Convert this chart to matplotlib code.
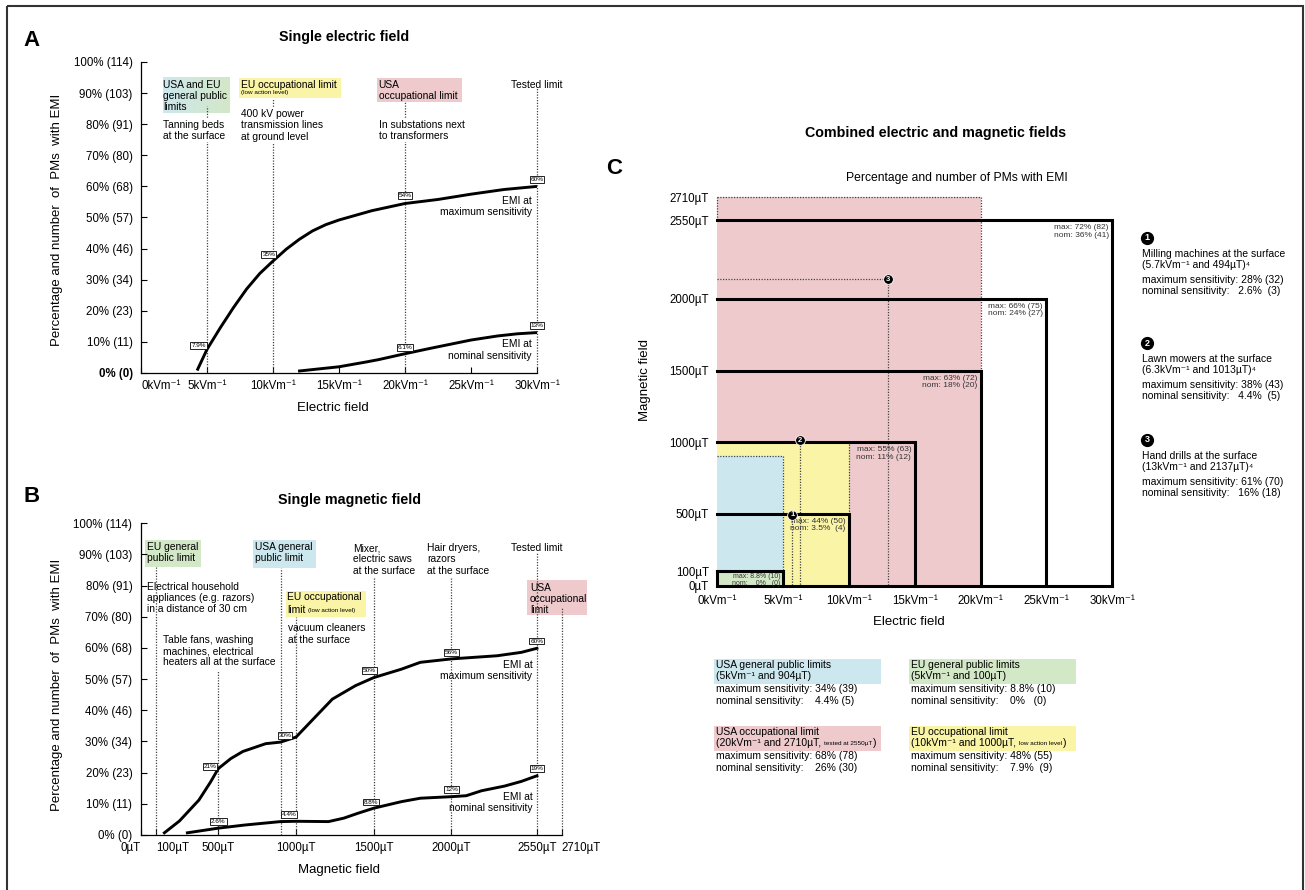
import matplotlib
matplotlib.use('Agg')
import numpy as np
import matplotlib.pyplot as plt
from matplotlib.patches import Rectangle
from matplotlib.colors import LinearSegmentedColormap

plt.rcParams['font.family'] = ['Liberation Sans', 'DejaVu Sans']

# ---------------- values ----------------
pct_ticks = [0, 10, 20, 30, 40, 50, 60, 70, 80, 90, 100]
pm_counts = [0, 11, 23, 34, 46, 57, 68, 80, 91, 103, 114]
kv_ticks = [0, 5, 10, 15, 20, 25, 30]
ut_ticks = [0, 100, 500, 1000, 1500, 2000, 2550, 2710]

# A: single electric field (kV/m -> % of PMs with EMI)
e_max_kv = [4.25, 5, 6, 7, 8, 9, 10, 11, 12, 13, 14, 15, 17.5, 20, 22.5, 25, 27.5, 30]
e_max_pct = [0.8, 7.6, 14.5, 21, 27, 32, 36, 39.8, 43, 45.7, 47.7, 49.2, 52.2, 54.5, 55.8, 57.5, 59, 60]
e_nom_kv = [11.9, 13, 15, 17, 18, 20, 22, 23.5, 25, 27, 28.5, 30]
e_nom_pct = [0.6, 1.1, 2, 3.5, 4.3, 6.2, 8, 9.3, 10.6, 11.9, 12.6, 13]
e_mark_kv = [5, 10, 20, 30]
e_mark_max = [7.9, 35, 54, 60]
e_mark_nom_kv = [20, 30]
e_mark_nom = [6.1, 13]

# B: single magnetic field (uT -> % of PMs with EMI)
b_max_ut = [153, 250, 375, 450, 500, 580, 658, 805, 900, 1000, 1111, 1234, 1382, 1500,
            1678, 1800, 2000, 2293, 2450, 2550]
b_max_pct = [0.7, 4.5, 11.2, 17, 21.3, 24.5, 26.8, 29.3, 29.8, 31.4, 37.2, 43.6, 47.9, 50.5,
             53.2, 55.4, 56.5, 57.5, 58.6, 59.9]
b_nom_ut = [301, 500, 670, 900, 1000, 1209, 1307, 1400, 1500, 1678, 1800, 2000, 2095, 2194,
            2342, 2450, 2550]
b_nom_pct = [0.7, 2.2, 3.2, 4.3, 4.4, 4.3, 5.4, 7, 8.6, 10.7, 11.8, 12.3, 12.6, 14.2,
             15.7, 17.2, 19]
b_mark_ut = [500, 1000, 1500, 2000, 2550]
b_mark_max = [21, 30, 50, 56, 60]
b_mark_nom = [2.6, 4.4, 8.8, 12, 19]

# C: combined fields, tested boxes (kV/m, uT)
c_box_kv = [5, 10, 15, 20, 25, 30]
c_box_ut = [100, 500, 1000, 1500, 2000, 2550]
c_box_max = ['8.8% (10)', '44% (50)', '55% (63)', '63% (72)', '66% (75)', '72% (82)']
c_box_nom = ['   0%   (0)', '3.5%  (4)', '11% (12)', '18% (20)', '24% (27)', '36% (41)']

limit_kv = [20, 10, 5, 5]            # USA occ, EU occ, USA public, EU public
limit_ut = [2710, 1000, 904, 100]
limit_max = ['68% (78)', '48% (55)', '34% (39)', '8.8% (10)']
limit_nom = ['26% (30)', '7.9%  (9)', '4.4% (5)', '0%   (0)']

device_names = ['Milling machines at the surface', 'Lawn mowers at the surface',
                'Hand drills at the surface']
device_kv = [5.7, 6.3, 13]
device_ut = [494, 1013, 2137]
device_max = ['28% (32)', '38% (43)', '61% (70)']
device_nom = ['2.6%  (3)', '4.4%  (5)', '16% (18)']

BLUE = '#cde7ee'
GREEN = '#d3e8c7'
YELLOW = '#faf4a6'
PINK = '#eecacd'
DOT = dict(color='#444444', lw=0.9, ls=(0, (1, 1.2)))

W, H = 1305, 890
fig = plt.figure(figsize=(W / 100, H / 100), dpi=100)


def axes_px(left, top, right, bottom):
    return fig.add_axes([left / W, 1 - bottom / H, (right - left) / W, (bottom - top) / H])


def style_pct_axis(ax):
    for s in ['top', 'right']:
        ax.spines[s].set_visible(False)
    for s in ['left', 'bottom']:
        ax.spines[s].set_linewidth(0.9)
    ax.set_ylim(0, 100)
    ax.set_yticks(pct_ticks)
    ax.set_yticklabels([f'{p}% ({n})' for p, n in zip(pct_ticks, pm_counts)], fontsize=8.3)
    ax.tick_params(axis='y', direction='in', length=4, width=0.8, pad=6)
    ax.tick_params(axis='x', direction='in', length=4, width=0.8, pad=5, labelsize=8.3)
    ax.patch.set_alpha(0)


def mark(ax, x, v, dx, dy):
    ax.annotate(f'{v:g}%', xy=(x, v), xytext=(dx, dy), textcoords='offset points',
                ha='center', va='center', fontsize=4.6, zorder=5,
                bbox=dict(boxstyle='square,pad=0.15', fc='white', ec='black', lw=0.6))


txt = dict(fontsize=7.4, linespacing=1.15, va='top')
white = dict(boxstyle='square,pad=0.1', fc='white', ec='none')

# ---------------- A ----------------
axA = axes_px(141, 62, 537, 373)
style_pct_axis(axA)
axA.get_yticklabels()[0].set_fontweight('bold')
axA.set_xlim(0, 30)
axA.set_xticks(kv_ticks)
axA.set_xticklabels([f'{k}kVm⁻¹' for k in kv_ticks])
axA.get_xticklabels()[0].set_ha('left')

grad = LinearSegmentedColormap.from_list('bg', [BLUE, GREEN])
axA.imshow(np.linspace(0, 1, 64)[None, :], extent=[1.64, 6.7, 83.6, 94.9], cmap=grad,
           aspect='auto', interpolation='bilinear', zorder=1)
axA.add_patch(Rectangle((7.45, 88.5), 7.7, 6.4, fc=YELLOW, ec='none', zorder=1))
axA.add_patch(Rectangle((17.9, 87.2), 6.4, 7.7, fc=PINK, ec='none', zorder=1))
axA.set_xlim(0, 30)
axA.set_ylim(0, 100)

for x, top in zip([5, 10, 20, 30], [86, 88.5, 87.2, 91.5]):
    axA.plot([x, x], [0, top], **DOT, zorder=2, clip_on=False)

axA.text(1.7, 94.3, 'USA and EU\ngeneral public\nlimits', zorder=3, **txt)
axA.text(7.6, 94.3, 'EU occupational limit', zorder=3, **txt)
axA.text(7.6, 91.0, '(low action level)', fontsize=4.6, va='top', zorder=3)
axA.text(18.0, 94.3, 'USA\noccupational limit', zorder=3, **txt)
axA.text(30, 94.3, 'Tested limit', ha='center', zorder=3, **txt)
axA.text(1.7, 81.3, 'Tanning beds\nat the surface', bbox=white, zorder=3, **txt)
axA.text(7.6, 84.8, '400 kV power\ntransmission lines\nat ground level', bbox=white, zorder=3, **txt)
axA.text(18.0, 81.3, 'In substations next\nto transformers', bbox=white, zorder=3, **txt)
axA.text(29.6, 57.0, 'EMI at\nmaximum sensitivity', ha='right', bbox=white, zorder=3, **txt)
axA.text(29.6, 10.8, 'EMI at\nnominal sensitivity', ha='right', bbox=white, zorder=3, **txt)

axA.plot(e_max_kv, e_max_pct, color='black', lw=2.1, solid_capstyle='butt', zorder=4)
axA.plot(e_nom_kv, e_nom_pct, color='black', lw=2.1, solid_capstyle='butt', zorder=4)
for x, v, off in zip(e_mark_kv, e_mark_max, [(-6, 2), (-3, 7), (0, 7), (0, 5)]):
    mark(axA, x, v, *off)
for x, v in zip(e_mark_nom_kv, e_mark_nom):
    mark(axA, x, v, 0, 5)

# ---------------- B ----------------
axB = axes_px(140.6, 523.3, 561.8, 835)
style_pct_axis(axB)
axB.set_xlim(0, 2710)
axB.set_xticks(ut_ticks)
axB.set_xticklabels([f'{u}µT' for u in ut_ticks])
blabels = axB.get_xticklabels()
blabels[0].set_ha('right')
blabels[1].set_ha('left')
blabels[-1].set_ha('left')

axB.add_patch(Rectangle((31, 85.9), 356, 8.7, fc=GREEN, ec='none', zorder=1))
axB.add_patch(Rectangle((724, 85.6), 402, 9.0, fc=BLUE, ec='none', zorder=1))
axB.add_patch(Rectangle((935, 70.0), 514, 8.3, fc=YELLOW, ec='none', zorder=1))
axB.add_patch(Rectangle((2489, 70.6), 380, 11.2, fc=PINK, ec='none', zorder=1, clip_on=False))

for x, top in zip([100, 500, 904, 1000, 1500, 2000, 2550, 2710],
                  [85.9, 52.9, 85.6, 70.0, 82.9, 82.9, 90.5, 73.2]):
    axB.plot([x, x], [0, top], **DOT, zorder=2, clip_on=False)

axB.text(39, 94.0, 'EU general\npublic limit', zorder=3, **txt)
axB.text(736, 94.0, 'USA general\npublic limit', zorder=3, **txt)
axB.text(944, 77.8, 'EU occupational', zorder=3, **txt)
lim = axB.text(944, 73.9, 'limit', zorder=3, **txt)
axB.annotate('(low action level)', xy=(1, 0), xycoords=lim, xytext=(1.5, 1.2),
             textcoords='offset points', fontsize=4.6, va='bottom', zorder=3)
axB.text(2506, 81.0, 'USA\noccupational\nlimit', zorder=3, clip_on=False, **txt)
axB.text(43, 81.2, 'Electrical household\nappliances (e.g. razors)\nin a distance of 30 cm',
         zorder=1, **txt)
axB.text(146, 64.2, 'Table fans, washing\nmachines, electrical\nheaters all at the surface',
         zorder=1, **txt)
axB.text(947, 67.9, 'vacuum cleaners\nat the surface', zorder=1, **txt)
axB.text(1365, 93.6, 'Mixer,\nelectric saws\nat the surface', zorder=1, **txt)
axB.text(1845, 93.6, 'Hair dryers,\nrazors\nat the surface', zorder=1, **txt)
axB.text(2550, 93.6, 'Tested limit', ha='center', zorder=3, **txt)
axB.text(2521, 56.1, 'EMI at\nmaximum sensitivity', ha='right', zorder=1, **txt)
axB.text(2521, 13.9, 'EMI at\nnominal sensitivity', ha='right', zorder=1, **txt)

axB.plot(b_max_ut, b_max_pct, color='black', lw=2.1, zorder=4)
axB.plot(b_nom_ut, b_nom_pct, color='black', lw=2.1, zorder=4)
for x, v, off in zip(b_mark_ut, b_mark_max, [(-6, 2), (-8, 4), (-3, 6), (0, 6), (0, 5)]):
    mark(axB, x, v, *off)
for x, v, off in zip(b_mark_ut, b_mark_nom, [(0, 4), (-5, 5), (-2, 4), (0, 6), (0, 5)]):
    mark(axB, x, v, *off)

# ---------------- C ----------------
axC = axes_px(717.1, 197.2, 1112.3, 585.6)
axC.set_xlim(0, 30)
axC.set_ylim(0, 2710)
for s in axC.spines.values():
    s.set_visible(False)
axC.patch.set_alpha(0)
axC.set_xticks(kv_ticks)
axC.set_xticklabels([f'{k}kVm⁻¹' for k in kv_ticks])
axC.set_yticks(ut_ticks)
axC.set_yticklabels([f'{u}µT' for u in ut_ticks])
axC.tick_params(axis='both', length=0, labelsize=8.3)
axC.tick_params(axis='y', pad=6)
axC.tick_params(axis='x', pad=7)

for kv, ut, col in zip(limit_kv, limit_ut, [PINK, YELLOW, BLUE, GREEN]):
    axC.add_patch(Rectangle((0, 0), kv, ut, fc=col, ec='none', zorder=1))

# dotted borders of the limit areas
axC.plot([0, limit_kv[0], limit_kv[0]], [limit_ut[0], limit_ut[0], 1500], **DOT, zorder=2, clip_on=False)
axC.plot([0, 0], [2550, limit_ut[0]], **DOT, zorder=2, clip_on=False)
axC.plot([limit_kv[1], limit_kv[1]], [500, limit_ut[1]], **DOT, zorder=2)
axC.plot([0, limit_kv[2], limit_kv[2]], [limit_ut[2], limit_ut[2], 100], **DOT, zorder=2)

# device guides
axC.plot([0, device_kv[2], device_kv[2]], [device_ut[2], device_ut[2], 0], **DOT, zorder=2)
axC.plot([device_kv[1], device_kv[1]], [device_ut[1], 0], **DOT, zorder=2)
axC.plot([device_kv[0], device_kv[0]], [device_ut[0], 0], **DOT, zorder=2)

# tested boxes
for i, (kv, ut, mx, nm) in enumerate(zip(c_box_kv, c_box_ut, c_box_max, c_box_nom)):
    axC.plot([0, kv, kv], [ut, ut, 0], color='black', lw=2.2, zorder=3,
             solid_joinstyle='miter', clip_on=False)
    if i == 0:
        axC.annotate(f'max: {mx}\nnom: {nm}', xy=(kv, ut), xytext=(-2, -1.5),
                     textcoords='offset points', ha='right', va='top', fontsize=5,
                     linespacing=0.85, color='#333333', zorder=4)
    else:
        axC.annotate(f'max: {mx}\nnom: {nm}', xy=(kv, ut), xytext=(-2.5, -3),
                     textcoords='offset points', ha='right', va='top', fontsize=6,
                     linespacing=1.05, color='#333333', zorder=4)
axC.plot([0, c_box_kv[-1]], [0, 0], color='black', lw=2.2, zorder=3, clip_on=False)
axC.plot([0, 0], [0, c_box_ut[0]], color='black', lw=2.2, zorder=3, clip_on=False)

for i, (kv, ut) in enumerate(zip(device_kv, device_ut)):
    axC.plot(kv, ut, 'o', ms=7, color='black', mec='white', mew=0.6, zorder=6)
    axC.text(kv, ut, str(i + 1), color='white', fontsize=5.5, fontweight='bold',
             ha='center', va='center', zorder=7)

# ---------------- overlay in pixel coordinates ----------------
ov = fig.add_axes([0, 0, 1, 1])
ov.set_xlim(0, W)
ov.set_ylim(H, 0)
ov.axis('off')
ov.patch.set_alpha(0)

ov.add_patch(Rectangle((7, 6), 1296, 900, fill=False, ec='#333333', lw=1.5))

ov.text(32, 40, 'A', fontsize=16, fontweight='bold', ha='center', va='center')
ov.text(344, 37, 'Single electric field', fontsize=10.3, fontweight='bold', ha='center', va='center')
ov.text(32, 497, 'B', fontsize=16, fontweight='bold', ha='center', va='center')
ov.text(350, 500, 'Single magnetic field', fontsize=10.3, fontweight='bold', ha='center', va='center')
ov.text(614, 169, 'C', fontsize=16, fontweight='bold', ha='center', va='center')
ov.text(936, 133, 'Combined electric and magnetic fields', fontsize=10.3, fontweight='bold',
        ha='center', va='center')
ov.text(957, 178, 'Percentage and number of PMs with EMI', fontsize=8.7, ha='center', va='center')

ylab = 'Percentage and number  of  PMs  with EMI'
ov.text(57, 220, ylab, fontsize=9.5, rotation=90, ha='center', va='center')
ov.text(333, 408, 'Electric field', fontsize=9.5, ha='center', va='center')
ov.text(57, 685, ylab, fontsize=9.5, rotation=90, ha='center', va='center')
ov.text(339, 870, 'Magnetic field', fontsize=9.5, ha='center', va='center')
ov.text(645, 380, 'Magnetic field', fontsize=9.5, rotation=90, ha='center', va='center')
ov.text(909, 622, 'Electric field', fontsize=9.5, ha='center', va='center')

# device legend on the right
leg = dict(fontsize=7.5, ha='left', va='center')
for i, y0 in enumerate([238, 343, 440]):
    ov.plot(1147, y0, 'o', ms=8.5, color='black')
    ov.text(1147, y0, str(i + 1), color='white', fontsize=6.5, fontweight='bold',
            ha='center', va='center')
    ov.text(1142, y0 + 16, device_names[i], **leg)
    ov.text(1142, y0 + 27, f'({device_kv[i]:g}kVm⁻¹ and {device_ut[i]}µT)⁴', **leg)
    ov.text(1142, y0 + 42, f'maximum sensitivity: {device_max[i]}', **leg)
    ov.text(1142, y0 + 53, f'nominal sensitivity:   {device_nom[i]}', **leg)

# limit legend below panel C
boxes = [(714, 726, PINK), (909, 726, YELLOW), (714, 659, BLUE), (909, 659, GREEN)]
heads = ['USA occupational limit', 'EU occupational limit',
         'USA general public limits', 'EU general public limits']
for i, (x0, y0, col) in enumerate(boxes):
    ov.add_patch(Rectangle((x0, y0), 167, 24.5, fc=col, ec='none'))
    ov.text(x0 + 2, y0 + 6, heads[i], **leg)
    second = f'({limit_kv[i]}kVm⁻¹ and {limit_ut[i]}µT'
    if i == 0:
        t = ov.text(x0 + 2, y0 + 17, second + ',', **leg)
        t2 = ov.annotate('tested at 2550µT', xy=(1, 0), xycoords=t, xytext=(2, 1.5),
                         textcoords='offset points', fontsize=4.6, va='bottom')
        ov.annotate(')', xy=(1, 0), xycoords=t2, xytext=(0.5, -1.5),
                    textcoords='offset points', fontsize=7.5, va='bottom')
    elif i == 1:
        t = ov.text(x0 + 2, y0 + 17, second + ',', **leg)
        t2 = ov.annotate('low action level', xy=(1, 0), xycoords=t, xytext=(2, 1.5),
                         textcoords='offset points', fontsize=4.6, va='bottom')
        ov.annotate(')', xy=(1, 0), xycoords=t2, xytext=(0.5, -1.5),
                    textcoords='offset points', fontsize=7.5, va='bottom')
    else:
        ov.text(x0 + 2, y0 + 17, second + ')', **leg)
    ov.text(x0 + 2, y0 + 30, f'maximum sensitivity: {limit_max[i]}', **leg)
    ov.text(x0 + 2, y0 + 42, f'nominal sensitivity:    {limit_nom[i]}', **leg)

fig.savefig('out.png', dpi=100)
